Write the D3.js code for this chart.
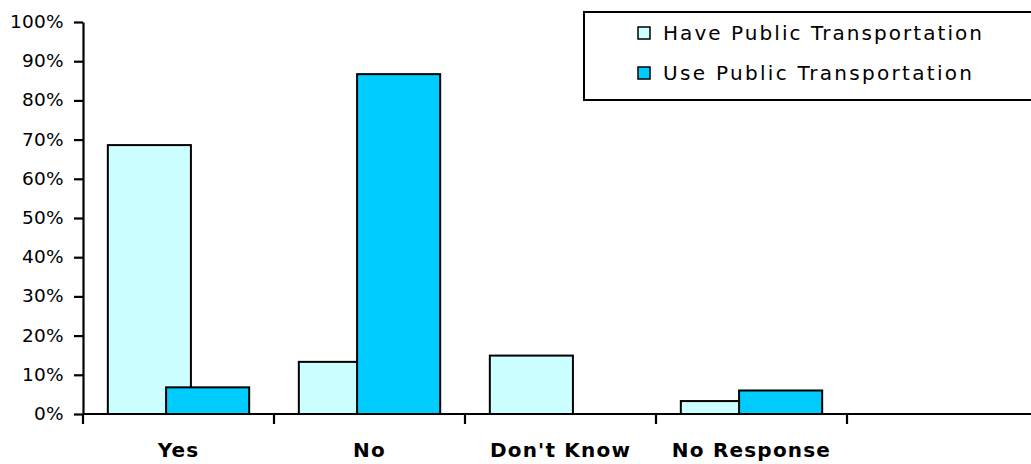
<!DOCTYPE html>
<html>
<head>
<meta charset="utf-8">
<script src="https://cdn.jsdelivr.net/npm/d3@7"></script>
<style>
  html, body { margin: 0; padding: 0; background: #fff; }
  svg { display: block; }
  text { font-family: "DejaVu Sans", Verdana, sans-serif; fill: #000; }
</style>
</head>
<body>
<svg id="chart" width="1031" height="464"></svg>
<script>
// Survey answers, shares of respondents
const categories = ["Yes", "No", "Don't Know", "No Response", ""];
const seriesNames = ["Have Public Transportation", "Use Public Transportation"];
const haveValues = [0.686, 0.133, 0.149, 0.033, null];
const useValues  = [0.068, 0.867, 0.0, 0.060, null];
const yTicks = [0, 0.1, 0.2, 0.3, 0.4, 0.5, 0.6, 0.7, 0.8, 0.9, 1.0];
const seriesColors = ["#CCFFFF", "#00CCFF"];

const svg = d3.select("#chart");
const plot = { left: 83, top: 22, bottom: 414, band: 191 };

const x = d3.scaleBand()
  .domain(categories)
  .range([plot.left, plot.left + plot.band * categories.length])
  .paddingInner(0).paddingOuter(0);

const y = d3.scaleLinear().domain([0, 1]).range([plot.bottom, plot.top]);

// Overlapping clustered bars: second series is shifted and drawn on top
const bw = x.bandwidth();
const barW = bw * 0.435;
const shift = bw * 0.305;
const groupStart = (bw - (barW + shift)) / 2;

const series = [haveValues, useValues];
series.forEach((vals, si) => {
  svg.append("g").selectAll("rect")
    .data(categories.map((c, i) => ({ c, v: vals[i] })).filter(d => d.v !== null && d.v > 0))
    .join("rect")
    .attr("x", d => x(d.c) + groupStart + si * shift)
    .attr("y", d => y(d.v))
    .attr("width", barW)
    .attr("height", d => y(0) - y(d.v))
    .attr("fill", seriesColors[si])
    .attr("stroke", "#000")
    .attr("stroke-width", 2);
});

// Y axis
const yAxis = d3.axisLeft(y)
  .tickValues(yTicks)
  .tickFormat(d3.format(".0%"))
  .tickSizeInner(9).tickSizeOuter(0).tickPadding(10);
const gy = svg.append("g").attr("transform", `translate(${plot.left},0)`).call(yAxis);
gy.select(".domain").attr("stroke", "#000").attr("stroke-width", 2.2);
gy.selectAll(".tick line").attr("stroke", "#000").attr("stroke-width", 2.2);
gy.selectAll(".tick text")
  .attr("font-size", 18.5)
  .attr("font-family", "DejaVu Sans, sans-serif")
  .attr("letter-spacing", 0.3)
  .attr("dy", "0.3em");

// X axis: ticks at category boundaries, labels centred in each band
const gx = svg.append("g").attr("transform", `translate(0,${plot.bottom})`);
gx.append("line")
  .attr("x1", plot.left).attr("x2", 1031)
  .attr("stroke", "#000").attr("stroke-width", 2.2);
gx.selectAll("line.tick")
  .data(categories)
  .join("line")
  .attr("class", "tick")
  .attr("x1", d => x(d)).attr("x2", d => x(d))
  .attr("y1", 0).attr("y2", 10)
  .attr("stroke", "#000").attr("stroke-width", 2.2);
gx.selectAll("text")
  .data(categories)
  .join("text")
  .attr("x", d => x(d) + bw / 2)
  .attr("y", 43)
  .attr("text-anchor", "middle")
  .attr("font-size", 20)
  .attr("font-weight", "bold")
  .attr("letter-spacing", 1.2)
  .text(d => d);

// Legend
const legend = svg.append("g");
legend.append("rect")
  .attr("x", 584).attr("y", 12)
  .attr("width", 460).attr("height", 88)
  .attr("fill", "#fff").attr("stroke", "#000").attr("stroke-width", 2);
seriesNames.forEach((name, i) => {
  const ly = 27 + i * 40;
  legend.append("rect")
    .attr("x", 638).attr("y", ly)
    .attr("width", 12).attr("height", 12)
    .attr("fill", seriesColors[i]).attr("stroke", "#000").attr("stroke-width", 1.5);
  legend.append("text")
    .attr("x", 663).attr("y", ly + 13)
    .attr("font-size", 20)
    .attr("textLength", i === 0 ? 319 : 309)
    .attr("lengthAdjust", "spacing")
    .text(name);
});
</script>
</body>
</html>
